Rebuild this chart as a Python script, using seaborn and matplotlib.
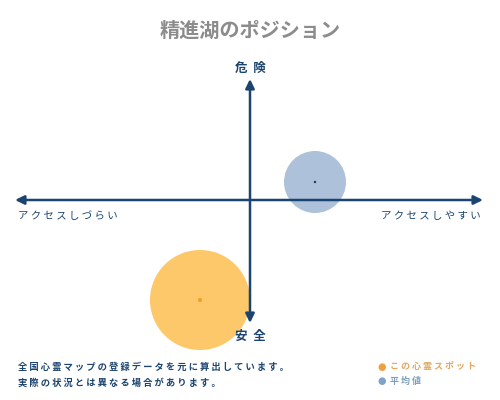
import matplotlib
matplotlib.use("Agg")
import matplotlib.pyplot as plt
import seaborn as sns
import pandas as pd

# values (x: access, y: danger, radius: bubble size in px)
labels = ["この心霊スポット", "平均値"]
access = [-50, 65]
danger = [-100, 18]
radius = [50, 31]
fill_colors = ["#fdc86a", "#adc2da"]
dot_colors = ["#f0a020", "#1a3a5c"]

title = "精進湖のポジション"
top_label, bottom_label = "危険", "安全"
left_label, right_label = "アクセスしづらい", "アクセスしやすい"
note_lines = ["全国心霊マップの登録データを元に算出しています。",
              "実際の状況とは異なる場合があります。"]

navy = "#1c4470"
sns.set_theme(style="white")
plt.rcParams['font.family'] = ['Noto Sans CJK JP', 'DejaVu Sans']

def spaced(s, sep=" "):
    return sep.join(s)

fig = plt.figure(figsize=(5, 4), dpi=100)
ax = fig.add_axes([0, 0, 1, 1])
ax.set_xlim(-250, 250)
ax.set_ylim(-200, 200)
ax.axis("off")

# axes arrows
arrow = dict(arrowstyle="-|>,head_length=0.45,head_width=0.22", color=navy, lw=1.8,
             shrinkA=0, shrinkB=0)
ax.annotate("", xy=(-235, 0), xytext=(0, 0), arrowprops=arrow)
ax.annotate("", xy=(233, 0), xytext=(0, 0), arrowprops=arrow)
ax.annotate("", xy=(0, 121), xytext=(0, 0), arrowprops=arrow)
ax.annotate("", xy=(0, -123), xytext=(0, 0), arrowprops=arrow)

df = pd.DataFrame({"label": labels, "access": access, "danger": danger,
                   "radius": radius})
# size in points^2 from radius in pixels
df["s"] = (2 * df["radius"] * 72 / fig.dpi) ** 2

sns.scatterplot(data=df, x="access", y="danger", hue="label",
                palette=dict(zip(labels, fill_colors)), s=df["s"].tolist(),
                linewidth=0, alpha=1, legend=False, ax=ax, zorder=1)
sns.scatterplot(data=df, x="access", y="danger", hue="label",
                palette=dict(zip(labels, dot_colors)), s=[9, 3],
                linewidth=0, legend=False, ax=ax, zorder=3)
# keep the axis lines above the bubbles
for ch in ax.texts + ax.patches:
    ch.set_zorder(2)

fig.text(0.5, 1 - 30 / 400, title, ha="center", va="center",
         fontsize=14.5, color="#8c8c8c", fontweight="bold")
fig.text(0.5, 1 - 68 / 400, spaced(top_label, "  "), ha="center", va="center",
         fontsize=9, color=navy, fontweight="bold")
fig.text(0.5, 1 - 336 / 400, spaced(bottom_label, "  "), ha="center", va="center",
         fontsize=9, color=navy, fontweight="bold")
fig.text(18 / 500, 1 - 216 / 400, spaced(left_label), ha="left", va="center",
         fontsize=7.5, color=navy)
fig.text(481 / 500, 1 - 216 / 400, spaced(right_label), ha="right", va="center",
         fontsize=7.5, color=navy)

for i, line in enumerate(note_lines):
    fig.text(18 / 500, 1 - (367 + 16 * i) / 400, spaced(line), ha="left",
             va="center", fontsize=6.7, color=navy, fontweight="bold")

legend_text_colors = ["#e0a860", "#7f9fc0"]
legend_dot_colors = ["#f0a040", "#7fa3c8"]
for i, lab in enumerate(labels):
    y = 1 - (367 + 14 * i) / 400
    fig.text(382 / 500, y, "●", ha="center", va="center", fontsize=7,
             color=legend_dot_colors[i], family=['DejaVu Sans'])
    fig.text(390 / 500, y, spaced(lab), ha="left", va="center",
             fontsize=6.5, color=legend_text_colors[i], fontweight="bold")

fig.savefig("out.png", dpi=100, facecolor="white")
